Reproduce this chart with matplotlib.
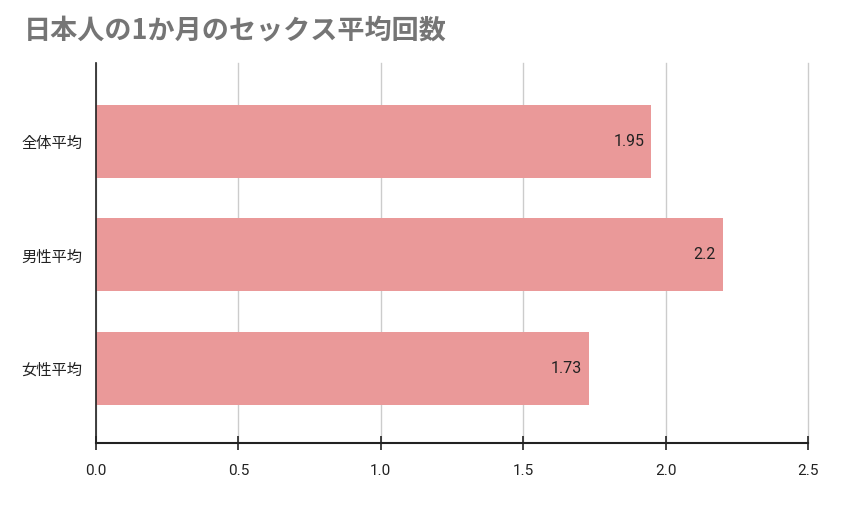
import matplotlib
matplotlib.use('Agg')
import matplotlib.pyplot as plt

plt.rcParams['font.family'] = ['Noto Sans CJK JP', 'DejaVu Sans']

categories = ['全体平均', '男性平均', '女性平均']
values = [1.95, 2.2, 1.73]
value_labels = ['1.95', '2.2', '1.73']
xticks = [0.0, 0.5, 1.0, 1.5, 2.0, 2.5]
title = '日本人の1か月のセックス平均回数'

fig = plt.figure(figsize=(8.5, 5.09), dpi=100)
ax = fig.add_axes([96 / 850, 1 - 443 / 509, 712 / 850, 380 / 509])

ypos = list(range(len(categories)))
ax.barh(ypos, values, height=0.643, color='#EA9999', zorder=3)

# value labels inside the bar end
for y, v, lab in zip(ypos, values, value_labels):
    ax.text(v - 0.025, y, lab, ha='right', va='center', fontsize=11.5,
            color='#222222', family=['Roboto', 'DejaVu Sans'], zorder=4)

ax.set_xlim(0, 2.5)
ax.set_ylim(2.656, -0.69)
ax.set_yticks(ypos)
ax.set_yticklabels(categories, fontsize=11, color='#222222')
ax.tick_params(axis='y', length=0, pad=10)

ax.set_xticks(xticks)
ax.set_xticklabels(['%.1f' % t for t in xticks], fontsize=11, color='#222222',
                   family=['Roboto', 'DejaVu Sans'])
ax.tick_params(axis='x', direction='inout', length=10, width=1.2, color='#222222', pad=10)

ax.grid(axis='x', color='#cccccc', linewidth=1, zorder=0)
for gl in ax.get_xgridlines():
    gl.set_clip_on(False)
for s in ['top', 'right']:
    ax.spines[s].set_visible(False)
ax.spines['left'].set_color('#222222')
ax.spines['left'].set_linewidth(1.2)
ax.spines['bottom'].set_color('#222222')
ax.spines['bottom'].set_linewidth(1.5)
ax.spines['left'].set_zorder(5)
ax.spines['bottom'].set_zorder(5)

fig.text(24 / 850, 1 - 30 / 509, title, fontsize=19.5, fontweight='bold',
         color='#757575', ha='left', va='center')

fig.savefig('out.png', dpi=100, facecolor='white')
